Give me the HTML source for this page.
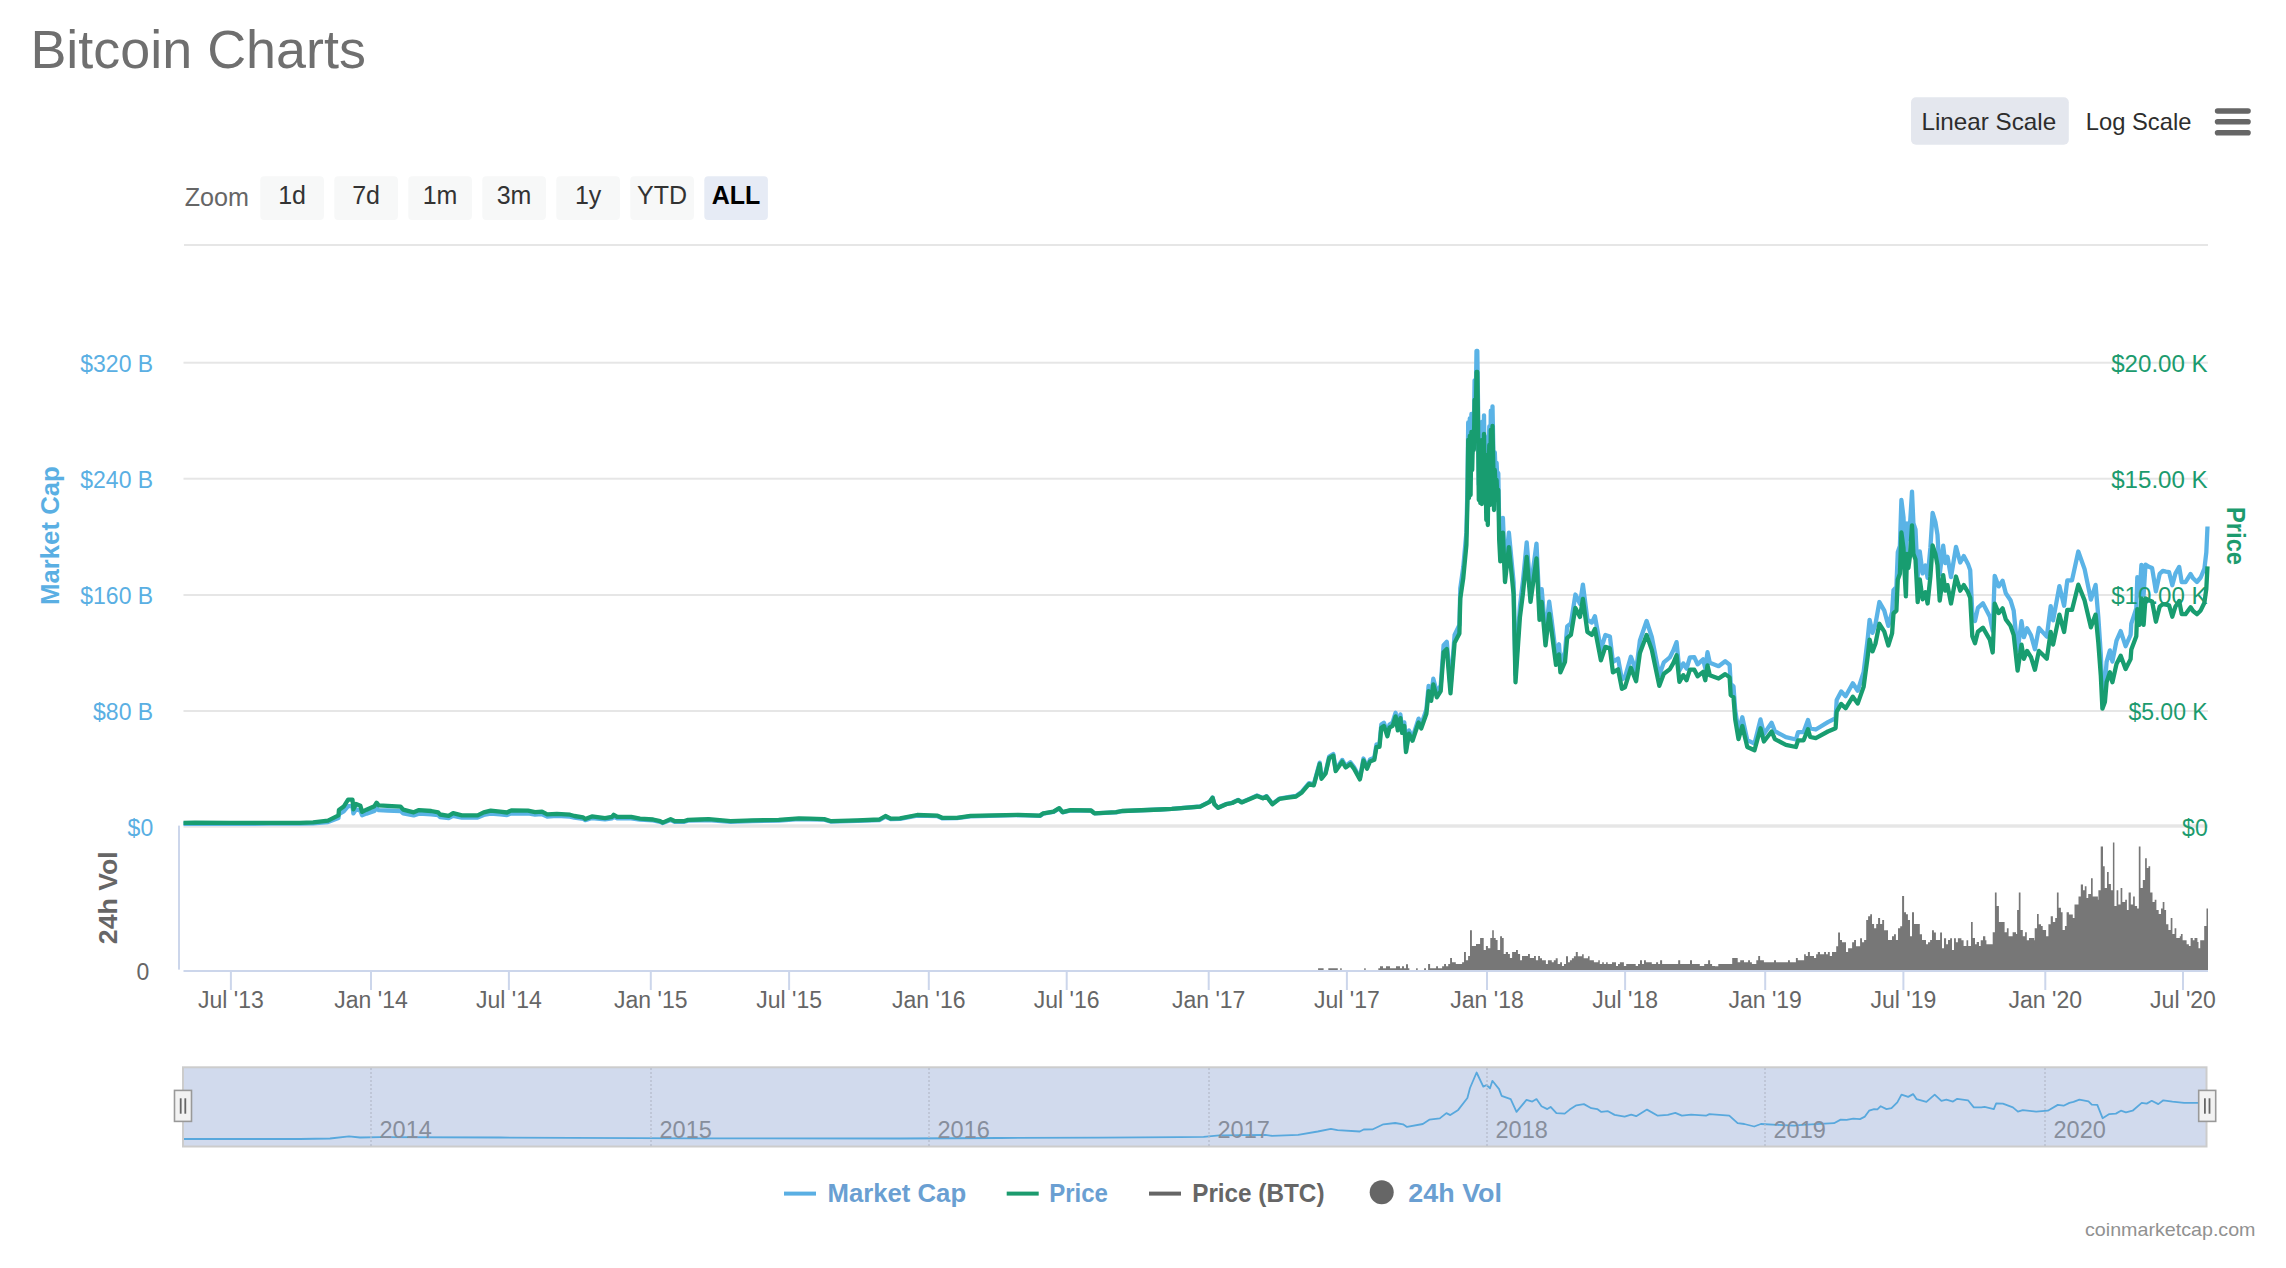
<!DOCTYPE html>
<html><head><meta charset="utf-8"><style>html,body{margin:0;padding:0;background:#fff;overflow:hidden}svg{display:block}</style></head>
<body><svg width="2286" height="1268" viewBox="0 0 2286 1268" font-family="&quot;Liberation Sans&quot;, sans-serif"><text x="30.4" y="67.7" font-size="53" fill="#6f6f6f" text-anchor="start" font-weight="normal" textLength="335.5" lengthAdjust="spacingAndGlyphs" >Bitcoin Charts</text>
<rect x="1911" y="97.3" width="157.8" height="47.4" rx="5" fill="#e4e7ee"/>
<text x="1921.5" y="129.7" font-size="24" fill="#2d2d2d" text-anchor="start" font-weight="normal" textLength="134.7" lengthAdjust="spacingAndGlyphs" >Linear Scale</text>
<text x="2085.8" y="129.7" font-size="24" fill="#2d2d2d" text-anchor="start" font-weight="normal" textLength="105.6" lengthAdjust="spacingAndGlyphs" >Log Scale</text>
<rect x="2214.8" y="108.2" width="36" height="5.6" rx="2.8" fill="#666"/>
<rect x="2214.8" y="119.0" width="36" height="5.6" rx="2.8" fill="#666"/>
<rect x="2214.8" y="130.0" width="36" height="5.6" rx="2.8" fill="#666"/>
<text x="184.7" y="205.9" font-size="25" fill="#666" text-anchor="start" font-weight="normal" textLength="64.3" lengthAdjust="spacingAndGlyphs" >Zoom</text>
<rect x="260.3" y="176.2" width="63.6" height="43.7" rx="4" fill="#f7f8f8"/>
<text x="292.1" y="204.1" font-size="25" fill="#333" text-anchor="middle" font-weight="normal" >1d</text>
<rect x="334.3" y="176.2" width="63.6" height="43.7" rx="4" fill="#f7f8f8"/>
<text x="366.1" y="204.1" font-size="25" fill="#333" text-anchor="middle" font-weight="normal" >7d</text>
<rect x="408.3" y="176.2" width="63.6" height="43.7" rx="4" fill="#f7f8f8"/>
<text x="440.1" y="204.1" font-size="25" fill="#333" text-anchor="middle" font-weight="normal" >1m</text>
<rect x="482.3" y="176.2" width="63.6" height="43.7" rx="4" fill="#f7f8f8"/>
<text x="514.1" y="204.1" font-size="25" fill="#333" text-anchor="middle" font-weight="normal" >3m</text>
<rect x="556.3" y="176.2" width="63.6" height="43.7" rx="4" fill="#f7f8f8"/>
<text x="588.0999999999999" y="204.1" font-size="25" fill="#333" text-anchor="middle" font-weight="normal" >1y</text>
<rect x="630.3" y="176.2" width="63.6" height="43.7" rx="4" fill="#f7f8f8"/>
<text x="662.0999999999999" y="204.1" font-size="25" fill="#333" text-anchor="middle" font-weight="normal" >YTD</text>
<rect x="704.3" y="176.2" width="63.6" height="43.7" rx="4" fill="#e6ebf5"/>
<text x="736.0999999999999" y="204.1" font-size="25" fill="#000" text-anchor="middle" font-weight="bold" >ALL</text>
<rect x="184" y="244" width="2024" height="2" fill="#e6e6e6"/>
<rect x="183.5" y="361.7" width="2024.5" height="2" fill="#e6e6e6"/>
<rect x="183.5" y="477.7" width="2024.5" height="2" fill="#e6e6e6"/>
<rect x="183.5" y="594" width="2024.5" height="2" fill="#e6e6e6"/>
<rect x="183.5" y="710" width="2024.5" height="2" fill="#e6e6e6"/>
<rect x="183.5" y="824.3" width="2024.5" height="3.4" fill="#e6e6e6"/>
<text x="153.2" y="372" font-size="23" fill="#5aafe3" text-anchor="end" font-weight="normal" >$320 B</text>
<text x="153.2" y="487.6" font-size="23" fill="#5aafe3" text-anchor="end" font-weight="normal" >$240 B</text>
<text x="153.2" y="603.8" font-size="23" fill="#5aafe3" text-anchor="end" font-weight="normal" >$160 B</text>
<text x="153.2" y="719.8" font-size="23" fill="#5aafe3" text-anchor="end" font-weight="normal" >$80 B</text>
<text x="153.2" y="836.1" font-size="23" fill="#5aafe3" text-anchor="end" font-weight="normal" >$0</text>
<text transform="translate(59,535.6) rotate(-90)" font-size="26" fill="#5aafe3" font-weight="bold" text-anchor="middle" textLength="138.7" lengthAdjust="spacingAndGlyphs">Market Cap</text>
<text transform="translate(2227,536) rotate(90)" font-size="26" fill="#1c9b6e" font-weight="bold" text-anchor="middle" textLength="58" lengthAdjust="spacingAndGlyphs">Price</text>
<text transform="translate(116.5,897.7) rotate(-90)" font-size="26" fill="#666" font-weight="bold" text-anchor="middle" textLength="92.9" lengthAdjust="spacingAndGlyphs">24h Vol</text>
<text x="149.2" y="979.6" font-size="23" fill="#666" text-anchor="end" font-weight="normal" >0</text>
<path d="M1318.1,970H1323.6V968.2H1318.1ZM1328.3,970H1337.8V968.2H1328.3ZM1340.2,970H1341.7V968.2H1340.2ZM1364.2,970H1365.7V968.2H1364.2ZM1378.3,970H1409.4V968.3H1378.3ZM1380.0,970H1383.0V966.2H1380.0ZM1386.0,970H1390.0V966.2H1386.0ZM1396.0,970H1400.0V966.2H1396.0ZM1402.0,970H1404.0V966.2H1402.0ZM1406.0,970H1408.0V964.2H1406.0ZM1416.1,970H1417.7V968.2H1416.1ZM1424.1,970H1426.0V968.2H1424.1ZM1428.1,970H1430.1V964.1H1428.1ZM1430.1,970H1436.1V968.2H1430.1ZM1436.1,970H1438.0V966.3H1436.1ZM1438.0,970H1442.1V968.2H1438.0ZM1442.1,970H1444.1V966.3H1442.1ZM1444.1,970H1446.0V964.1H1444.1ZM1446.0,970H1448.2V966.3H1446.0ZM1448.2,970H1450.1V964.1H1448.2ZM1450.1,970H1452.0V958.1H1450.1ZM1452.0,970H1455.8V962.2H1452.0ZM1455.8,970H1462.1V964.1H1455.8ZM1462.1,970H1464.0V962.2H1462.1ZM1464.0,970H1465.9V952.0H1464.0ZM1465.9,970H1468.1V960.2H1465.9ZM1468.1,970H1470.0V956.1H1468.1ZM1470.0,970H1471.9V930.2H1470.0ZM1471.9,970H1476.0V946.0H1471.9ZM1476.0,970H1480.1V944.1H1476.0ZM1480.1,970H1483.7V938.1H1480.1ZM1483.7,970H1485.9V950.1H1483.7ZM1485.9,970H1487.9V946.0H1485.9ZM1487.9,970H1490.3V948.2H1487.9ZM1490.3,970H1492.2V938.1H1490.3ZM1492.2,970H1493.8V930.2H1492.2ZM1493.8,970H1495.7V938.1H1493.8ZM1495.7,970H1497.6V940.0H1495.7ZM1497.6,970H1500.1V950.1H1497.6ZM1500.1,970H1502.0V936.2H1500.1ZM1502.0,970H1503.7V938.1H1502.0ZM1503.7,970H1505.8V954.0H1503.7ZM1505.8,970H1508.0V952.0H1505.8ZM1508.0,970H1509.9V954.0H1508.0ZM1509.9,970H1512.1V958.1H1509.9ZM1512.1,970H1516.0V952.0H1512.1ZM1516.0,970H1517.9V950.1H1516.0ZM1517.9,970H1520.1V954.0H1517.9ZM1520.1,970H1522.0V960.2H1520.1ZM1522.0,970H1528.0V956.1H1522.0ZM1528.0,970H1529.9V954.0H1528.0ZM1529.9,970H1534.0V958.1H1529.9ZM1534.0,970H1535.9V956.1H1534.0ZM1535.9,970H1538.1V960.2H1535.9ZM1538.1,970H1540.0V956.1H1538.1ZM1540.0,970H1542.0V958.2H1540.0ZM1542.0,970H1545.9V960.2H1542.0ZM1545.9,970H1547.9V964.1H1545.9ZM1547.9,970H1551.8V960.2H1547.9ZM1551.8,970H1553.8V962.2H1551.8ZM1553.8,970H1555.7V960.2H1553.8ZM1555.7,970H1557.7V958.2H1555.7ZM1557.7,970H1560.1V964.1H1557.7ZM1560.1,970H1562.0V962.2H1560.1ZM1562.0,970H1564.0V966.1H1562.0ZM1564.0,970H1566.0V964.1H1564.0ZM1566.0,970H1568.0V956.3H1566.0ZM1568.0,970H1569.9V962.2H1568.0ZM1569.9,970H1571.9V960.2H1569.9ZM1571.9,970H1573.9V958.2H1571.9ZM1573.9,970H1575.8V956.3H1573.9ZM1575.8,970H1577.8V951.9H1575.8ZM1577.8,970H1582.1V956.3H1577.8ZM1582.1,970H1583.7V954.3H1582.1ZM1583.7,970H1588.0V958.2H1583.7ZM1588.0,970H1589.6V956.3H1588.0ZM1589.6,970H1593.9V960.2H1589.6ZM1593.9,970H1598.3V962.2H1593.9ZM1598.3,970H1599.8V960.2H1598.3ZM1599.8,970H1602.2V964.1H1599.8ZM1602.2,970H1603.8V962.2H1602.2ZM1603.8,970H1606.1V964.1H1603.8ZM1606.1,970H1607.7V962.2H1606.1ZM1607.7,970H1612.0V964.1H1607.7ZM1612.0,970H1616.0V962.2H1612.0ZM1616.0,970H1618.0V966.1H1616.0ZM1618.0,970H1619.9V964.1H1618.0ZM1619.9,970H1623.9V962.2H1619.9ZM1623.9,970H1626.2V966.1H1623.9ZM1626.2,970H1635.7V964.1H1626.2ZM1635.7,970H1638.0V966.1H1635.7ZM1638.0,970H1640.0V964.1H1638.0ZM1640.0,970H1642.0V960.2H1640.0ZM1642.0,970H1644.0V964.1H1642.0ZM1644.0,970H1645.9V960.2H1644.0ZM1645.9,970H1651.8V962.2H1645.9ZM1651.8,970H1656.1V964.1H1651.8ZM1656.1,970H1658.1V962.2H1656.1ZM1658.1,970H1660.1V964.1H1658.1ZM1660.1,970H1662.1V960.2H1660.1ZM1662.1,970H1678.2V964.1H1662.1ZM1678.2,970H1680.2V960.2H1678.2ZM1680.2,970H1690.0V964.1H1680.2ZM1690.0,970H1692.0V960.2H1690.0ZM1692.0,970H1699.8V964.1H1692.0ZM1699.8,970H1704.2V966.1H1699.8ZM1704.2,970H1708.1V964.1H1704.2ZM1708.1,970H1710.1V960.2H1708.1ZM1710.1,970H1712.1V964.1H1710.1ZM1712.1,970H1715.0V966.1H1712.1ZM1715.0,970H1718.3V966.3H1715.0ZM1718.3,970H1732.2V964.1H1718.3ZM1732.2,970H1737.7V958.1H1732.2ZM1737.7,970H1740.2V962.2H1737.7ZM1740.2,970H1744.0V960.2H1740.2ZM1744.0,970H1748.1V962.2H1744.0ZM1748.1,970H1750.0V960.2H1748.1ZM1750.0,970H1751.9V962.2H1750.0ZM1751.9,970H1756.3V964.1H1751.9ZM1756.3,970H1758.2V960.2H1756.3ZM1758.2,970H1760.1V956.1H1758.2ZM1760.1,970H1763.9V960.2H1760.1ZM1763.9,970H1774.0V962.2H1763.9ZM1774.0,970H1776.0V960.2H1774.0ZM1776.0,970H1788.0V962.2H1776.0ZM1788.0,970H1789.9V960.2H1788.0ZM1789.9,970H1795.9V962.2H1789.9ZM1795.9,970H1797.8V958.1H1795.9ZM1797.8,970H1804.1V960.2H1797.8ZM1804.1,970H1805.8V954.2H1804.1ZM1805.8,970H1807.9V956.1H1805.8ZM1807.9,970H1809.9V952.0H1807.9ZM1809.9,970H1814.0V956.1H1809.9ZM1814.0,970H1816.1V958.1H1814.0ZM1816.1,970H1817.8V954.2H1816.1ZM1817.8,970H1820.0V952.0H1817.8ZM1820.0,970H1824.1V954.2H1820.0ZM1824.1,970H1826.0V952.0H1824.1ZM1826.0,970H1827.9V954.2H1826.0ZM1827.9,970H1829.8V952.0H1827.9ZM1829.8,970H1832.0V956.1H1829.8ZM1832.0,970H1835.0V952.0H1832.0ZM1835.0,970H1836.2V952.1H1835.0ZM1836.2,970H1838.1V946.3H1836.2ZM1838.1,970H1840.0V932.4H1838.1ZM1840.0,970H1842.0V940.1H1840.0ZM1842.0,970H1846.0V942.3H1842.0ZM1846.0,970H1848.1V952.1H1846.0ZM1848.1,970H1852.1V948.2H1848.1ZM1852.1,970H1854.1V942.3H1852.1ZM1854.1,970H1856.0V940.1H1854.1ZM1856.0,970H1860.1V946.3H1856.0ZM1860.1,970H1862.0V938.2H1860.1ZM1862.0,970H1864.1V942.3H1862.0ZM1864.1,970H1866.2V940.1H1864.1ZM1866.2,970H1868.1V920.1H1866.2ZM1868.1,970H1870.2V916.2H1868.1ZM1870.2,970H1872.0V914.3H1870.2ZM1872.0,970H1874.1V924.1H1872.0ZM1874.1,970H1876.2V928.2H1874.1ZM1876.2,970H1878.1V924.1H1876.2ZM1878.1,970H1880.1V918.1H1878.1ZM1880.1,970H1882.2V924.1H1880.1ZM1882.2,970H1884.1V920.1H1882.2ZM1884.1,970H1888.0V930.2H1884.1ZM1888.0,970H1892.0V940.1H1888.0ZM1892.0,970H1894.0V936.2H1892.0ZM1894.0,970H1895.9V934.3H1894.0ZM1895.9,970H1898.0V940.1H1895.9ZM1898.0,970H1900.2V928.2H1898.0ZM1900.2,970H1902.1V926.2H1900.2ZM1902.1,970H1904.1V896.1H1902.1ZM1904.1,970H1906.0V912.3H1904.1ZM1906.0,970H1907.9V914.3H1906.0ZM1907.9,970H1910.0V920.1H1907.9ZM1910.0,970H1912.0V936.2H1910.0ZM1912.0,970H1914.0V912.3H1912.0ZM1914.0,970H1919.8V924.1H1914.0ZM1919.8,970H1922.0V934.3H1919.8ZM1922.0,970H1926.0V940.1H1922.0ZM1926.0,970H1928.0V944.2H1926.0ZM1928.0,970H1930.1V942.3H1928.0ZM1930.1,970H1932.0V940.1H1930.1ZM1932.0,970H1933.9V930.2H1932.0ZM1933.9,970H1935.9V932.4H1933.9ZM1935.9,970H1940.1V940.1H1935.9ZM1940.1,970H1942.0V932.4H1940.1ZM1942.0,970H1944.0V948.2H1942.0ZM1944.0,970H1946.1V938.2H1944.0ZM1946.1,970H1948.0V944.2H1946.1ZM1948.0,970H1950.1V940.1H1948.0ZM1950.1,970H1952.0V938.2H1950.1ZM1952.0,970H1954.0V950.1H1952.0ZM1954.0,970H1955.9V938.2H1954.0ZM1955.9,970H1957.9V942.3H1955.9ZM1957.9,970H1961.4V938.2H1957.9ZM1961.4,970H1963.6V940.2H1961.4ZM1963.6,970H1966.5V945.9H1963.6ZM1966.5,970H1968.2V940.2H1966.5ZM1968.2,970H1971.0V945.9H1968.2ZM1971.0,970H1972.7V922.0H1971.0ZM1972.7,970H1975.0V937.9H1972.7ZM1975.0,970H1976.7V944.2H1975.0ZM1976.7,970H1979.0V941.9H1976.7ZM1979.0,970H1980.7V945.9H1979.0ZM1980.7,970H1983.0V940.2H1980.7ZM1983.0,970H1985.3V936.2H1983.0ZM1985.3,970H1986.4V940.2H1985.3ZM1986.4,970H1992.1V944.2H1986.4ZM1992.1,970H1992.7V944.2H1992.1ZM1992.7,970H1994.9V932.2H1992.7ZM1994.9,970H1996.6V892.4H1994.9ZM1996.6,970H1998.9V906.1H1996.6ZM1998.9,970H2002.9V922.0H1998.9ZM2002.9,970H2004.6V922.0H2002.9ZM2004.6,970H2006.9V932.2H2004.6ZM2006.9,970H2008.6V928.3H2006.9ZM2008.6,970H2012.6V936.2H2008.6ZM2012.6,970H2016.0V932.2H2012.6ZM2016.0,970H2017.1V934.0H2016.0ZM2017.1,970H2018.8V910.1H2017.1ZM2018.8,970H2020.5V892.4H2018.8ZM2020.5,970H2022.8V930.0H2020.5ZM2022.8,970H2025.1V936.2H2022.8ZM2025.1,970H2026.8V932.2H2025.1ZM2026.8,970H2029.0V940.2H2026.8ZM2029.0,970H2034.2V937.9H2029.0ZM2034.2,970H2034.7V940.2H2034.2ZM2034.7,970H2037.0V928.3H2034.7ZM2037.0,970H2038.7V914.0H2037.0ZM2038.7,970H2041.0V924.3H2038.7ZM2041.0,970H2042.7V926.0H2041.0ZM2042.7,970H2046.1V930.0H2042.7ZM2046.1,970H2048.4V936.2H2046.1ZM2048.4,970H2050.7V924.3H2048.4ZM2050.7,970H2052.9V916.3H2050.7ZM2052.9,970H2055.2V922.0H2052.9ZM2055.2,970H2056.9V918.0H2055.2ZM2056.9,970H2058.6V892.4H2056.9ZM2058.6,970H2060.9V907.8H2058.6ZM2060.9,970H2062.6V912.3H2060.9ZM2062.6,970H2064.9V930.0H2062.6ZM2064.9,970H2066.6V926.0H2064.9ZM2066.6,970H2068.9V912.3H2066.6ZM2068.9,970H2072.8V914.6H2068.9ZM2072.8,970H2074.5V918.0H2072.8ZM2074.5,970H2078.0V904.4H2074.5ZM2078.0,970H2078.5V904.4H2078.0ZM2078.5,970H2080.8V896.4H2078.5ZM2080.8,970H2083.0V884.5H2080.8ZM2083.0,970H2084.8V890.2H2083.0ZM2084.8,970H2086.5V886.2H2084.8ZM2086.5,970H2088.2V898.1H2086.5ZM2088.2,970H2091.0V894.1H2088.2ZM2091.0,970H2092.7V878.2H2091.0ZM2092.7,970H2095.6V896.4H2092.7ZM2095.6,970H2097.9V896.4H2095.6ZM2097.9,970H2098.4V899.8H2097.9ZM2098.4,970H2100.7V890.2H2098.4ZM2100.7,970H2103.0V846.4H2100.7ZM2103.0,970H2104.7V866.3H2103.0ZM2104.7,970H2107.0V887.9H2104.7ZM2107.0,970H2108.7V872.0H2107.0ZM2108.7,970H2110.9V883.9H2108.7ZM2110.9,970H2112.9V890.2H2110.9ZM2112.9,970H2114.4V842.4H2112.9ZM2114.4,970H2116.6V906.1H2114.4ZM2116.6,970H2118.3V890.2H2116.6ZM2118.3,970H2120.6V904.4H2118.3ZM2120.6,970H2122.3V887.9H2120.6ZM2122.3,970H2125.2V902.1H2122.3ZM2125.2,970H2126.9V899.8H2125.2ZM2126.9,970H2128.6V910.1H2126.9ZM2128.6,970H2130.8V892.4H2128.6ZM2130.8,970H2133.1V904.4H2130.8ZM2133.1,970H2134.8V896.4H2133.1ZM2134.8,970H2137.1V906.1H2134.8ZM2137.1,970H2138.8V908.4H2137.1ZM2138.8,970H2140.5V846.4H2138.8ZM2140.5,970H2142.8V887.9H2140.5ZM2142.8,970H2145.1V879.9H2142.8ZM2145.1,970H2146.8V858.3H2145.1ZM2146.8,970H2148.5V868.0H2146.8ZM2148.5,970H2150.2V866.3H2148.5ZM2150.2,970H2152.5V892.4H2150.2ZM2152.5,970H2154.7V902.1H2152.5ZM2154.7,970H2156.4V899.8H2154.7ZM2156.4,970H2158.7V910.1H2156.4ZM2158.7,970H2161.0V914.0H2158.7ZM2161.0,970H2162.7V908.4H2161.0ZM2162.7,970H2164.4V902.1H2162.7ZM2164.4,970H2166.1V910.1H2164.4ZM2166.1,970H2168.4V924.3H2166.1ZM2168.4,970H2170.7V930.0H2168.4ZM2170.7,970H2172.4V918.0H2170.7ZM2172.4,970H2174.6V934.0H2172.4ZM2174.6,970H2176.3V928.3H2174.6ZM2176.3,970H2179.8V937.9H2176.3ZM2179.8,970H2180.9V936.2H2179.8ZM2180.9,970H2182.6V934.0H2180.9ZM2182.6,970H2186.6V940.2H2182.6ZM2186.6,970H2188.9V944.2H2186.6ZM2188.9,970H2190.6V945.9H2188.9ZM2190.6,970H2192.8V937.9H2190.6ZM2192.8,970H2194.5V940.2H2192.8ZM2194.5,970H2197.4V937.9H2194.5ZM2197.4,970H2198.5V941.9H2197.4ZM2198.5,970H2200.2V948.2H2198.5ZM2200.2,970H2202.5V940.2H2200.2ZM2202.5,970H2204.2V940.2H2202.5ZM2204.2,970H2206.5V926.0H2204.2ZM2206.5,970H2208.0V908.4H2206.5Z" fill="#777777"/>
<path d="M183.5,823.8 L195.0,823.6 L230.0,823.8 L270.0,823.7 L300.0,823.6 L313.1,823.3 L328.0,822.0 L338.5,818.0 L338.9,814.1 L343.7,811.4 L348.1,806.1 L352.5,806.1 L353.4,813.4 L356.0,809.3 L360.4,810.7 L362.1,815.3 L366.5,813.6 L374.4,810.9 L376.6,808.2 L378.7,810.2 L387.5,810.5 L400.6,811.0 L403.2,813.4 L413.7,815.4 L419.0,813.6 L431.2,814.3 L438.2,815.2 L440.0,817.0 L448.7,818.0 L453.1,815.9 L461.9,817.6 L477.6,817.5 L483.7,815.0 L490.7,813.6 L500.0,814.4 L507.0,815.1 L511.4,813.3 L528.0,813.5 L535.0,814.6 L542.0,814.2 L547.2,816.5 L556.9,815.9 L570.0,816.6 L574.4,817.7 L583.1,818.8 L585.3,820.2 L591.9,818.0 L605.0,819.4 L612.0,818.3 L613.7,816.5 L617.2,818.3 L631.2,818.3 L640.0,819.7 L653.1,820.4 L660.1,821.9 L662.7,823.1 L670.6,820.1 L675.0,821.9 L683.7,821.8 L688.1,820.7 L700.0,820.3 L708.7,820.0 L730.6,821.8 L752.5,821.0 L778.7,820.5 L798.9,819.2 L809.4,819.3 L824.2,819.7 L831.2,821.6 L857.5,820.9 L879.4,820.0 L885.5,816.7 L890.7,819.1 L900.0,818.9 L917.1,815.7 L937.5,816.2 L942.1,818.3 L956.9,818.2 L970.5,816.4 L1018.3,815.2 L1039.9,815.9 L1043.3,813.6 L1053.5,811.9 L1059.2,808.5 L1062.6,812.4 L1070.6,810.4 L1091.1,810.7 L1094.5,813.4 L1116.1,812.3 L1121.8,811.1 L1160.0,809.5 L1171.8,808.9 L1200.2,806.5 L1209.7,801.7 L1212.6,797.5 L1214.4,804.1 L1218.0,807.7 L1226.2,804.0 L1232.2,802.8 L1238.1,799.9 L1241.6,802.2 L1249.9,798.6 L1257.0,795.5 L1262.9,797.9 L1266.5,796.1 L1272.4,803.9 L1279.5,798.5 L1287.8,797.2 L1296.0,796.0 L1301.9,791.7 L1309.0,783.2 L1313.8,784.4 L1319.7,762.6 L1321.5,777.7 L1325.6,772.3 L1329.2,756.5 L1333.3,754.0 L1335.7,769.7 L1342.2,759.9 L1345.7,766.0 L1350.4,762.3 L1354.0,767.1 L1359.9,778.1 L1363.5,758.5 L1367.0,767.0 L1370.0,759.6 L1374.3,757.8 L1376.5,744.3 L1379.5,744.3 L1381.3,724.6 L1383.9,722.7 L1387.4,733.4 L1389.5,724.5 L1392.6,722.5 L1395.6,712.7 L1397.8,727.0 L1400.4,714.4 L1402.1,729.6 L1404.3,722.4 L1406.0,749.4 L1409.0,730.4 L1412.5,737.6 L1418.6,718.6 L1421.2,724.8 L1426.4,709.5 L1428.6,685.9 L1431.2,695.9 L1433.3,678.7 L1436.8,692.1 L1440.7,685.7 L1443.6,645.1 L1446.8,641.7 L1450.5,687.7 L1454.6,634.9 L1459.4,625.0 L1460.3,588.4 L1463.3,566.9 L1466.4,532.4 L1467.5,485.3 L1468.2,422.5 L1469.0,483.1 L1469.8,418.3 L1470.6,479.9 L1471.4,414.0 L1472.2,453.7 L1473.0,416.0 L1473.8,432.7 L1474.6,380.3 L1475.6,411.6 L1476.5,350.9 L1477.3,350.8 L1478.0,401.0 L1478.8,484.7 L1479.5,421.9 L1480.3,487.8 L1481.0,437.5 L1481.8,488.8 L1482.5,421.7 L1483.3,484.5 L1484.0,415.3 L1484.8,484.4 L1485.5,453.0 L1486.3,505.3 L1487.0,437.1 L1487.8,510.5 L1488.5,452.8 L1489.3,426.5 L1490.0,489.4 L1490.8,410.7 L1491.6,463.1 L1492.5,406.4 L1493.2,442.0 L1494.0,494.5 L1494.8,452.4 L1495.8,476.5 L1496.6,462.8 L1497.5,483.8 L1498.3,473.2 L1499.2,525.7 L1500.3,548.1 L1502.9,517.9 L1505.0,569.6 L1508.9,532.7 L1513.6,582.2 L1515.5,674.8 L1519.9,606.5 L1523.0,580.4 L1526.7,542.4 L1530.5,589.6 L1536.5,543.6 L1539.5,608.3 L1541.7,589.2 L1545.5,635.1 L1549.2,601.7 L1551.5,619.1 L1556.0,655.4 L1559.0,644.3 L1560.4,663.2 L1565.0,652.0 L1567.2,626.5 L1570.9,623.3 L1575.4,594.5 L1580.0,603.9 L1582.9,584.6 L1587.4,619.6 L1591.9,622.6 L1594.9,616.2 L1600.9,649.5 L1605.4,635.0 L1609.9,636.5 L1612.9,661.9 L1618.1,658.6 L1621.9,679.4 L1624.9,677.7 L1630.9,656.7 L1636.1,671.0 L1639.9,640.5 L1646.6,621.0 L1651.8,637.0 L1659.3,675.4 L1663.8,662.4 L1669.8,657.4 L1673.3,650.6 L1676.6,642.1 L1679.4,670.6 L1683.3,663.4 L1686.6,668.7 L1689.9,657.3 L1694.3,657.2 L1697.6,664.3 L1703.1,659.4 L1705.3,668.3 L1707.5,652.2 L1709.8,662.8 L1718.6,666.2 L1725.2,661.3 L1729.6,664.7 L1730.7,683.9 L1733.5,686.3 L1735.2,710.2 L1738.5,731.7 L1742.3,717.3 L1747.3,740.1 L1754.5,743.6 L1760.5,719.4 L1763.9,733.9 L1771.6,722.8 L1774.9,731.2 L1785.9,737.2 L1795.9,739.5 L1798.1,732.1 L1803.6,732.0 L1808.0,719.9 L1810.2,728.3 L1815.8,729.5 L1827.9,722.1 L1835.6,718.3 L1836.7,700.0 L1841.2,691.4 L1845.6,696.2 L1852.8,683.3 L1857.7,690.8 L1863.6,672.2 L1867.6,639.4 L1869.6,619.8 L1872.5,632.8 L1875.5,624.0 L1879.4,602.0 L1884.3,610.6 L1888.3,625.8 L1892.1,612.2 L1893.5,590.1 L1896.4,586.9 L1897.8,552.2 L1899.9,545.8 L1901.4,499.9 L1903.5,517.2 L1904.2,536.1 L1905.9,570.8 L1907.0,523.4 L1908.4,539.1 L1909.9,526.5 L1912.0,491.6 L1913.4,523.1 L1915.5,529.4 L1917.7,576.7 L1919.8,551.4 L1922.6,573.4 L1925.5,565.4 L1927.6,577.9 L1930.4,547.7 L1932.6,512.8 L1935.4,522.2 L1937.5,534.8 L1939.7,574.4 L1943.2,545.7 L1945.3,563.0 L1947.5,556.7 L1951.0,577.2 L1956.0,546.8 L1960.2,562.5 L1963.8,556.1 L1968.0,563.9 L1970.2,570.1 L1972.3,613.1 L1975.0,621.0 L1977.9,607.9 L1982.9,603.3 L1989.8,616.4 L1992.7,630.9 L1994.7,575.8 L1998.7,586.4 L2002.6,580.8 L2005.8,593.2 L2010.5,600.2 L2013.7,610.7 L2017.6,650.7 L2021.5,621.2 L2023.9,637.2 L2027.1,628.2 L2031.0,635.2 L2034.9,649.3 L2038.9,627.9 L2043.6,633.1 L2046.8,636.6 L2050.7,606.1 L2053.1,620.3 L2059.4,586.1 L2064.1,605.7 L2067.3,580.5 L2072.0,580.4 L2078.3,551.5 L2084.6,569.1 L2090.9,599.6 L2095.6,584.9 L2098.3,616.7 L2100.8,654.4 L2102.4,692.1 L2104.9,684.5 L2106.6,661.8 L2109.9,650.4 L2112.4,661.6 L2116.5,640.7 L2120.7,631.1 L2125.6,646.2 L2130.6,634.8 L2131.3,623.7 L2136.3,608.4 L2137.3,577.2 L2139.5,595.3 L2141.4,564.8 L2143.6,595.2 L2145.5,564.7 L2148.9,566.8 L2152.1,568.1 L2155.9,591.3 L2159.7,573.8 L2162.8,570.9 L2166.0,571.6 L2169.1,572.2 L2172.3,585.2 L2175.4,573.6 L2179.2,566.9 L2181.7,582.2 L2185.5,582.1 L2190.6,574.0 L2193.1,578.3 L2196.9,582.0 L2200.7,577.5 L2204.4,568.7 L2206.3,552.6 L2207.5,526.5" fill="none" stroke="#5ab3e6" stroke-width="4.3" stroke-linejoin="round" stroke-linecap="butt"/>
<path d="M183.5,822.8 L195.0,822.6 L230.0,822.9 L270.0,822.8 L300.0,822.8 L313.1,822.4 L328.0,820.6 L338.5,815.4 L338.9,810.1 L343.7,806.6 L348.1,799.6 L352.5,799.6 L353.4,809.3 L356.0,804.0 L360.4,805.8 L362.1,811.9 L366.5,809.7 L374.4,806.2 L376.6,802.7 L378.7,805.3 L387.5,805.8 L400.6,806.6 L403.2,809.7 L413.7,812.3 L419.0,810.1 L431.2,811.0 L438.2,812.3 L440.0,814.5 L448.7,815.8 L453.1,813.2 L461.9,815.4 L477.6,815.4 L483.7,812.3 L490.7,810.6 L500.0,811.6 L507.0,812.5 L511.4,810.3 L528.0,810.7 L535.0,812.1 L542.0,811.6 L547.2,814.4 L556.9,813.8 L570.0,814.7 L574.4,816.0 L583.1,817.3 L585.3,819.1 L591.9,816.4 L605.0,818.2 L612.0,816.9 L613.7,814.7 L617.2,816.9 L631.2,816.9 L640.0,818.6 L653.1,819.5 L660.1,821.2 L662.7,822.6 L670.6,819.1 L675.0,821.2 L683.7,821.2 L688.1,819.9 L700.0,819.5 L708.7,819.1 L730.6,821.2 L752.5,820.4 L778.7,819.9 L798.9,818.4 L809.4,818.6 L824.2,819.1 L831.2,821.2 L857.5,820.4 L879.4,819.5 L885.5,816.0 L890.7,818.6 L900.0,818.4 L917.1,815.0 L937.5,815.6 L942.1,817.8 L956.9,817.8 L970.5,815.9 L1018.3,814.8 L1039.9,815.6 L1043.3,813.3 L1053.5,811.6 L1059.2,808.2 L1062.6,812.2 L1070.6,810.2 L1091.1,810.5 L1094.5,813.3 L1116.1,812.2 L1121.8,811.0 L1160.0,809.5 L1171.8,808.9 L1200.2,806.6 L1209.7,801.8 L1212.6,797.7 L1214.4,804.2 L1218.0,807.8 L1226.2,804.2 L1232.2,803.0 L1238.1,800.1 L1241.6,802.4 L1249.9,798.9 L1257.0,795.9 L1262.9,798.3 L1266.5,796.5 L1272.4,804.2 L1279.5,798.9 L1287.8,797.7 L1296.0,796.5 L1301.9,792.4 L1309.0,784.1 L1313.8,785.3 L1319.7,764.0 L1321.5,778.8 L1325.6,773.5 L1329.2,758.1 L1333.3,755.7 L1335.7,771.1 L1342.2,761.6 L1345.7,767.5 L1350.4,764.0 L1354.0,768.7 L1359.9,779.4 L1363.5,760.4 L1367.0,768.7 L1370.0,761.5 L1374.3,759.8 L1376.5,746.8 L1379.5,746.8 L1381.3,727.7 L1383.9,725.9 L1387.4,736.3 L1389.5,727.7 L1392.6,725.9 L1395.6,716.4 L1397.8,730.3 L1400.4,718.1 L1402.1,732.9 L1404.3,725.9 L1406.0,752.0 L1409.0,733.7 L1412.5,740.7 L1418.6,722.5 L1421.2,728.5 L1426.4,713.8 L1428.6,691.2 L1431.2,700.8 L1433.3,684.3 L1436.8,697.3 L1440.7,691.2 L1443.6,652.3 L1446.8,649.1 L1450.5,693.3 L1454.6,642.8 L1459.4,633.4 L1460.3,598.4 L1463.3,577.9 L1466.4,545.0 L1467.5,500.0 L1468.2,440.0 L1469.0,498.0 L1469.8,436.0 L1470.6,495.0 L1471.4,432.0 L1472.2,470.0 L1473.0,434.0 L1473.8,450.0 L1474.6,400.0 L1475.6,430.0 L1476.5,372.0 L1477.3,372.0 L1478.0,420.0 L1478.8,500.0 L1479.5,440.0 L1480.3,503.0 L1481.0,455.0 L1481.8,504.0 L1482.5,440.0 L1483.3,500.0 L1484.0,434.0 L1484.8,500.0 L1485.5,470.0 L1486.3,520.0 L1487.0,455.0 L1487.8,525.0 L1488.5,470.0 L1489.3,445.0 L1490.0,505.0 L1490.8,430.0 L1491.6,480.0 L1492.5,426.0 L1493.2,460.0 L1494.0,510.0 L1494.8,470.0 L1495.8,493.0 L1496.6,480.0 L1497.5,500.0 L1498.3,490.0 L1499.2,540.0 L1500.3,561.4 L1502.9,532.7 L1505.0,582.0 L1508.9,547.1 L1513.6,594.3 L1515.5,682.3 L1519.9,617.6 L1523.0,592.9 L1526.7,557.0 L1530.5,601.9 L1536.5,558.5 L1539.5,619.9 L1541.7,601.9 L1545.5,645.4 L1549.2,613.9 L1551.5,630.4 L1556.0,664.9 L1559.0,654.4 L1560.4,672.3 L1565.0,661.9 L1567.2,637.9 L1570.9,634.9 L1575.4,607.9 L1580.0,616.9 L1582.9,598.9 L1587.4,631.9 L1591.9,634.9 L1594.9,628.9 L1600.9,660.4 L1605.4,646.9 L1609.9,648.4 L1612.9,672.3 L1618.1,669.3 L1621.9,688.8 L1624.9,687.3 L1630.9,667.8 L1636.1,681.3 L1639.9,652.9 L1646.6,634.9 L1651.8,649.9 L1659.3,685.8 L1663.8,673.8 L1669.8,669.3 L1673.3,663.1 L1676.6,655.3 L1679.4,681.8 L1683.3,675.2 L1686.6,680.2 L1689.9,669.7 L1694.3,669.7 L1697.6,676.3 L1703.1,671.9 L1705.3,680.2 L1707.5,665.3 L1709.8,675.2 L1718.6,678.5 L1725.2,674.1 L1729.6,677.4 L1730.7,695.1 L1733.5,697.3 L1735.2,719.4 L1738.5,739.2 L1742.3,726.0 L1747.3,747.0 L1754.5,750.3 L1760.5,728.2 L1763.9,741.5 L1771.6,731.5 L1774.9,739.2 L1785.9,744.8 L1795.9,747.0 L1798.1,740.3 L1803.6,740.3 L1808.0,729.3 L1810.2,737.0 L1815.8,738.1 L1827.9,731.5 L1835.6,728.2 L1836.7,711.6 L1841.2,703.9 L1845.6,708.3 L1852.8,696.7 L1857.7,703.6 L1863.6,686.9 L1867.6,657.3 L1869.6,639.6 L1872.5,651.4 L1875.5,643.5 L1879.4,623.8 L1884.3,631.7 L1888.3,645.5 L1892.1,633.3 L1893.5,613.4 L1896.4,610.6 L1897.8,579.4 L1899.9,573.7 L1901.4,532.5 L1903.5,548.1 L1904.2,565.2 L1905.9,596.4 L1907.0,553.8 L1908.4,568.0 L1909.9,556.7 L1912.0,525.4 L1913.4,553.8 L1915.5,559.5 L1917.7,602.1 L1919.8,579.4 L1922.6,599.3 L1925.5,592.2 L1927.6,603.5 L1930.4,576.5 L1932.6,545.3 L1935.4,553.8 L1937.5,565.2 L1939.7,600.7 L1943.2,575.1 L1945.3,590.7 L1947.5,585.1 L1951.0,603.5 L1956.0,576.5 L1960.2,590.7 L1963.8,585.1 L1968.0,592.2 L1970.2,597.8 L1972.3,636.2 L1975.0,643.3 L1977.9,631.7 L1982.9,627.7 L1989.8,639.6 L1992.7,652.5 L1994.7,603.6 L1998.7,613.1 L2002.6,608.3 L2005.8,619.4 L2010.5,625.7 L2013.7,635.1 L2017.6,670.6 L2021.5,644.6 L2023.9,658.8 L2027.1,650.9 L2031.0,657.2 L2034.9,669.8 L2038.9,650.9 L2043.6,655.6 L2046.8,658.8 L2050.7,632.0 L2053.1,644.6 L2059.4,614.6 L2064.1,632.0 L2067.3,609.9 L2072.0,609.9 L2078.3,584.7 L2084.6,600.4 L2090.9,627.3 L2095.6,614.6 L2098.3,642.5 L2100.8,675.6 L2102.4,708.7 L2104.9,702.1 L2106.6,682.2 L2109.9,672.3 L2112.4,682.2 L2116.5,664.0 L2120.7,655.7 L2125.6,669.0 L2130.6,659.1 L2131.3,649.5 L2136.3,636.2 L2137.3,609.1 L2139.5,624.9 L2141.4,598.4 L2143.6,624.9 L2145.5,598.4 L2148.9,600.3 L2152.1,601.5 L2155.9,621.7 L2159.7,606.6 L2162.8,604.1 L2166.0,604.7 L2169.1,605.3 L2172.3,616.7 L2175.4,606.6 L2179.2,600.9 L2181.7,614.2 L2185.5,614.2 L2190.6,607.2 L2193.1,611.0 L2196.9,614.2 L2200.7,610.4 L2204.4,602.8 L2206.3,588.9 L2207.5,566.3" fill="none" stroke="#189d70" stroke-width="4.3" stroke-linejoin="round" stroke-linecap="butt"/>
<text x="2207.7" y="372" font-size="23" fill="#1c9b6e" text-anchor="end" font-weight="normal" textLength="96.5" lengthAdjust="spacingAndGlyphs" >$20.00 K</text>
<text x="2207.7" y="487.6" font-size="23" fill="#1c9b6e" text-anchor="end" font-weight="normal" textLength="96.5" lengthAdjust="spacingAndGlyphs" >$15.00 K</text>
<text x="2207.7" y="603.8" font-size="23" fill="#1c9b6e" text-anchor="end" font-weight="normal" textLength="96.5" lengthAdjust="spacingAndGlyphs" >$10.00 K</text>
<text x="2207.7" y="719.8" font-size="23" fill="#1c9b6e" text-anchor="end" font-weight="normal" >$5.00 K</text>
<text x="2207.7" y="836.1" font-size="23" fill="#1c9b6e" text-anchor="end" font-weight="normal" >$0</text>
<rect x="178" y="825.6" width="2" height="144" fill="#ccd6eb"/>
<rect x="183.5" y="970" width="2024.5" height="2" fill="#ccd6eb"/>
<rect x="229.9" y="971" width="2" height="19" fill="#ccd6eb"/>
<text x="230.9" y="1007.8" font-size="23" fill="#666" text-anchor="middle" font-weight="normal" >Jul &#39;13</text>
<rect x="370" y="971" width="2" height="19" fill="#ccd6eb"/>
<text x="371" y="1007.8" font-size="23" fill="#666" text-anchor="middle" font-weight="normal" >Jan &#39;14</text>
<rect x="507.9" y="971" width="2" height="19" fill="#ccd6eb"/>
<text x="508.9" y="1007.8" font-size="23" fill="#666" text-anchor="middle" font-weight="normal" >Jul &#39;14</text>
<rect x="649.8" y="971" width="2" height="19" fill="#ccd6eb"/>
<text x="650.8" y="1007.8" font-size="23" fill="#666" text-anchor="middle" font-weight="normal" >Jan &#39;15</text>
<rect x="788.1" y="971" width="2" height="19" fill="#ccd6eb"/>
<text x="789.1" y="1007.8" font-size="23" fill="#666" text-anchor="middle" font-weight="normal" >Jul &#39;15</text>
<rect x="927.8" y="971" width="2" height="19" fill="#ccd6eb"/>
<text x="928.8" y="1007.8" font-size="23" fill="#666" text-anchor="middle" font-weight="normal" >Jan &#39;16</text>
<rect x="1065.7" y="971" width="2" height="19" fill="#ccd6eb"/>
<text x="1066.7" y="1007.8" font-size="23" fill="#666" text-anchor="middle" font-weight="normal" >Jul &#39;16</text>
<rect x="1207.7" y="971" width="2" height="19" fill="#ccd6eb"/>
<text x="1208.7" y="1007.8" font-size="23" fill="#666" text-anchor="middle" font-weight="normal" >Jan &#39;17</text>
<rect x="1345.9" y="971" width="2" height="19" fill="#ccd6eb"/>
<text x="1346.9" y="1007.8" font-size="23" fill="#666" text-anchor="middle" font-weight="normal" >Jul &#39;17</text>
<rect x="1486" y="971" width="2" height="19" fill="#ccd6eb"/>
<text x="1487" y="1007.8" font-size="23" fill="#666" text-anchor="middle" font-weight="normal" >Jan &#39;18</text>
<rect x="1624.1" y="971" width="2" height="19" fill="#ccd6eb"/>
<text x="1625.1" y="1007.8" font-size="23" fill="#666" text-anchor="middle" font-weight="normal" >Jul &#39;18</text>
<rect x="1764.2" y="971" width="2" height="19" fill="#ccd6eb"/>
<text x="1765.2" y="1007.8" font-size="23" fill="#666" text-anchor="middle" font-weight="normal" >Jan &#39;19</text>
<rect x="1902.4" y="971" width="2" height="19" fill="#ccd6eb"/>
<text x="1903.4" y="1007.8" font-size="23" fill="#666" text-anchor="middle" font-weight="normal" >Jul &#39;19</text>
<rect x="2044.3" y="971" width="2" height="19" fill="#ccd6eb"/>
<text x="2045.3" y="1007.8" font-size="23" fill="#666" text-anchor="middle" font-weight="normal" >Jan &#39;20</text>
<rect x="2182" y="971" width="2" height="19" fill="#ccd6eb"/>
<text x="2183" y="1007.8" font-size="23" fill="#666" text-anchor="middle" font-weight="normal" >Jul &#39;20</text>
<rect x="183" y="1067.3" width="2023.5" height="79.2" fill="#d1daed" stroke="#cccccc" stroke-width="2"/>
<path d="M184.0,1139.0 L300.0,1139.0 L330.0,1138.5 L349.0,1136.3 L360.0,1137.5 L380.0,1137.2 L500.0,1137.5 L700.0,1138.3 L900.0,1138.5 L1000.0,1138.0 L1100.0,1137.6 L1180.0,1137.1 L1203.6,1136.8 L1219.4,1135.4 L1265.3,1134.8 L1271.9,1135.8 L1298.1,1134.8 L1317.8,1131.5 L1330.9,1128.9 L1337.5,1130.2 L1359.8,1131.5 L1363.7,1129.5 L1372.9,1129.3 L1383.4,1124.3 L1395.2,1123.0 L1403.1,1124.3 L1407.0,1126.9 L1422.8,1124.0 L1429.3,1119.7 L1439.8,1118.4 L1446.4,1113.1 L1450.3,1115.1 L1458.2,1109.9 L1467.4,1098.0 L1470.0,1088.0 L1476.6,1072.5 L1483.3,1086.6 L1486.6,1085.0 L1490.0,1088.3 L1492.4,1080.8 L1499.1,1089.1 L1501.6,1095.8 L1510.7,1099.1 L1516.5,1111.9 L1526.5,1099.9 L1532.3,1101.6 L1536.5,1099.1 L1541.5,1106.2 L1547.3,1109.1 L1550.6,1106.9 L1556.4,1113.2 L1564.7,1113.6 L1569.7,1109.6 L1576.4,1105.3 L1583.9,1104.1 L1591.3,1108.2 L1597.2,1109.1 L1601.3,1111.9 L1608.0,1111.2 L1614.6,1114.9 L1624.6,1116.6 L1631.2,1114.6 L1636.2,1116.2 L1647.0,1109.6 L1657.8,1115.7 L1667.8,1114.9 L1675.3,1112.9 L1681.9,1115.7 L1691.1,1114.6 L1706.0,1115.7 L1709.4,1114.1 L1729.3,1115.7 L1737.6,1123.2 L1744.3,1124.0 L1754.2,1126.5 L1760.9,1124.0 L1777.5,1124.9 L1794.1,1125.7 L1802.4,1124.9 L1834.0,1123.2 L1840.7,1119.6 L1846.6,1119.9 L1853.3,1118.6 L1860.0,1119.1 L1864.9,1116.6 L1869.1,1110.7 L1874.1,1109.1 L1877.4,1109.4 L1880.7,1106.2 L1886.5,1109.1 L1891.5,1108.2 L1897.3,1102.4 L1901.5,1094.6 L1908.2,1096.9 L1913.1,1094.1 L1916.5,1099.1 L1926.4,1101.9 L1934.7,1094.6 L1941.4,1100.8 L1946.4,1099.6 L1953.0,1101.6 L1957.2,1098.8 L1968.0,1100.3 L1973.8,1107.4 L1981.3,1107.4 L1984.6,1106.9 L1993.8,1109.1 L1996.2,1103.3 L2002.9,1103.6 L2012.9,1107.4 L2017.9,1111.6 L2022.8,1110.2 L2036.1,1111.6 L2047.8,1110.7 L2057.8,1104.9 L2063.6,1105.7 L2069.4,1102.9 L2073.5,1101.9 L2079.4,1099.6 L2088.5,1101.3 L2091.8,1104.6 L2097.3,1104.9 L2102.6,1118.2 L2109.3,1114.1 L2115.9,1113.6 L2120.9,1110.7 L2125.9,1112.4 L2132.6,1110.7 L2141.7,1102.9 L2146.7,1103.6 L2151.7,1100.8 L2158.3,1104.1 L2163.3,1100.3 L2172.4,1101.6 L2184.1,1102.9 L2198.2,1102.9 L2206.0,1103.0" fill="none" stroke="#58a8dd" stroke-width="1.8" stroke-linejoin="round"/>
<line x1="371" y1="1068" x2="371" y2="1146" stroke="#b3bac8" stroke-width="1.2" stroke-dasharray="2,2"/>
<text x="379.5" y="1137.7" font-size="23" fill="#878e9c" text-anchor="start" font-weight="normal" textLength="52.3" lengthAdjust="spacingAndGlyphs" >2014</text>
<line x1="651" y1="1068" x2="651" y2="1146" stroke="#b3bac8" stroke-width="1.2" stroke-dasharray="2,2"/>
<text x="659.5" y="1137.7" font-size="23" fill="#878e9c" text-anchor="start" font-weight="normal" textLength="52.3" lengthAdjust="spacingAndGlyphs" >2015</text>
<line x1="929" y1="1068" x2="929" y2="1146" stroke="#b3bac8" stroke-width="1.2" stroke-dasharray="2,2"/>
<text x="937.5" y="1137.7" font-size="23" fill="#878e9c" text-anchor="start" font-weight="normal" textLength="52.3" lengthAdjust="spacingAndGlyphs" >2016</text>
<line x1="1209" y1="1068" x2="1209" y2="1146" stroke="#b3bac8" stroke-width="1.2" stroke-dasharray="2,2"/>
<text x="1217.5" y="1137.7" font-size="23" fill="#878e9c" text-anchor="start" font-weight="normal" textLength="52.3" lengthAdjust="spacingAndGlyphs" >2017</text>
<line x1="1487" y1="1068" x2="1487" y2="1146" stroke="#b3bac8" stroke-width="1.2" stroke-dasharray="2,2"/>
<text x="1495.5" y="1137.7" font-size="23" fill="#878e9c" text-anchor="start" font-weight="normal" textLength="52.3" lengthAdjust="spacingAndGlyphs" >2018</text>
<line x1="1765" y1="1068" x2="1765" y2="1146" stroke="#b3bac8" stroke-width="1.2" stroke-dasharray="2,2"/>
<text x="1773.5" y="1137.7" font-size="23" fill="#878e9c" text-anchor="start" font-weight="normal" textLength="52.3" lengthAdjust="spacingAndGlyphs" >2019</text>
<line x1="2045" y1="1068" x2="2045" y2="1146" stroke="#b3bac8" stroke-width="1.2" stroke-dasharray="2,2"/>
<text x="2053.5" y="1137.7" font-size="23" fill="#878e9c" text-anchor="start" font-weight="normal" textLength="52.3" lengthAdjust="spacingAndGlyphs" >2020</text>
<!--NAV-->
<rect x="174.5" y="1090.4" width="17" height="31" fill="#f2f2f2" stroke="#999" stroke-width="1.6"/>
<rect x="179.8" y="1098.3" width="1.8" height="15.4" fill="#666"/><rect x="184.4" y="1098.3" width="1.8" height="15.4" fill="#666"/>
<rect x="2198.7" y="1090.4" width="17" height="31" fill="#f2f2f2" stroke="#999" stroke-width="1.6"/>
<rect x="2204.0" y="1098.3" width="1.8" height="15.4" fill="#666"/><rect x="2208.6" y="1098.3" width="1.8" height="15.4" fill="#666"/>
<rect x="784" y="1191.6" width="32" height="4" fill="#5aafe3"/>
<text x="827.5" y="1202.2" font-size="26" fill="#6a9fd2" text-anchor="start" font-weight="bold" textLength="138.6" lengthAdjust="spacingAndGlyphs" >Market Cap</text>
<rect x="1006.7" y="1191.6" width="32" height="4" fill="#1c9b6e"/>
<text x="1049.2" y="1202.2" font-size="26" fill="#6a9fd2" text-anchor="start" font-weight="bold" textLength="58.8" lengthAdjust="spacingAndGlyphs" >Price</text>
<rect x="1149" y="1191.6" width="32" height="4" fill="#666"/>
<text x="1192.2" y="1202.2" font-size="26" fill="#666" text-anchor="start" font-weight="bold" textLength="132.3" lengthAdjust="spacingAndGlyphs" >Price (BTC)</text>
<circle cx="1381.7" cy="1192.2" r="12" fill="#666"/>
<text x="1408.3" y="1202.2" font-size="26" fill="#6a9fd2" text-anchor="start" font-weight="bold" textLength="93.7" lengthAdjust="spacingAndGlyphs" >24h Vol</text>
<text x="2255.5" y="1235.8" font-size="19" fill="#919191" text-anchor="end" font-weight="normal" textLength="170.5" lengthAdjust="spacingAndGlyphs" >coinmarketcap.com</text></svg></body></html>
